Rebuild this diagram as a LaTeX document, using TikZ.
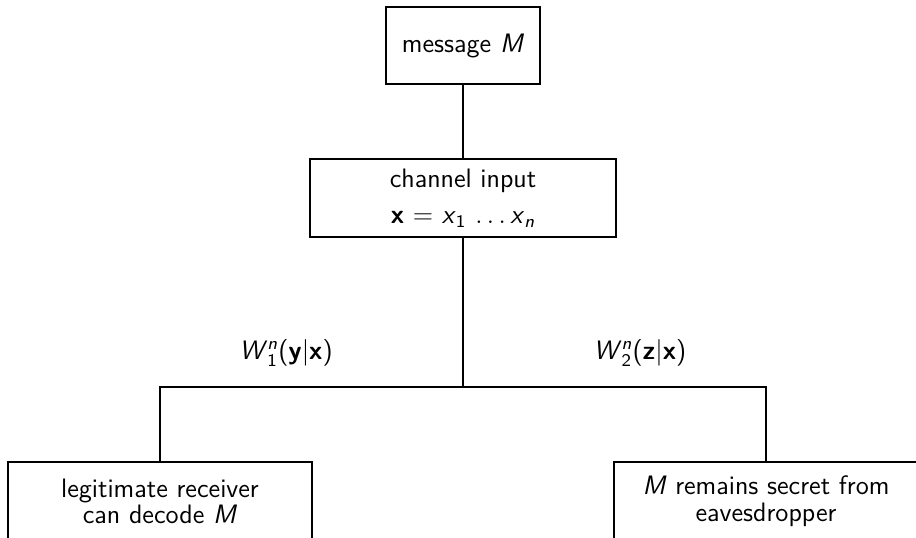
\documentclass[tikz,border=0pt]{standalone}
\usepackage{amsmath}
\newcommand{\vi}[1]{\textit{#1}}
\newcommand{\vb}[1]{\textbf{#1}}
\begin{document}
\begin{tikzpicture}[x=0.45pt,y=-0.45pt,
  font=\sffamily\fontsize{12}{12}\selectfont,
  line width=0.9pt,
  box/.style={draw, align=center, inner sep=0pt},
  lab/.style={inner sep=0pt}]
\useasboundingbox (0,0) rectangle (916,538);
\clip (0,0) rectangle (916,538);
\node[box, minimum width=69.3pt, minimum height=34.65pt] (msg) at (463,45.5) {message \vi{M}};
\node[box, minimum width=137.7pt, minimum height=35.1pt] (chan) at (463,198)
  {channel input\\[4.2pt]\vb{x} = \vi{x}$_{\text{1}}\,\ldots\,$\vi{x}$_{\text{\itshape n}}$};
\node[box, minimum width=136.8pt, minimum height=35.5pt] (left) at (160,501.5)
  {legitimate receiver\\can decode \vi{M}};
\node[box, minimum width=136.8pt, minimum height=35.5pt] (right) at (766,501.5)
  {\vi{M} remains secret from\\eavesdropper};
\coordinate (j) at (463,387);
\node[lab] (lab1) at (286,353) {\vi{W}$^{\text{\itshape n}}_{\text{1}}$(\vb{y}|\vb{x})};
\node[lab] (lab2) at (640,353) {\vi{W}$^{\text{\itshape n}}_{\text{2}}$(\vb{z}|\vb{x})};
\draw (msg) -- (chan);
\draw (chan) -- (j);
\draw (left.north) |- (j) -| (right.north);
\end{tikzpicture}
\end{document}
